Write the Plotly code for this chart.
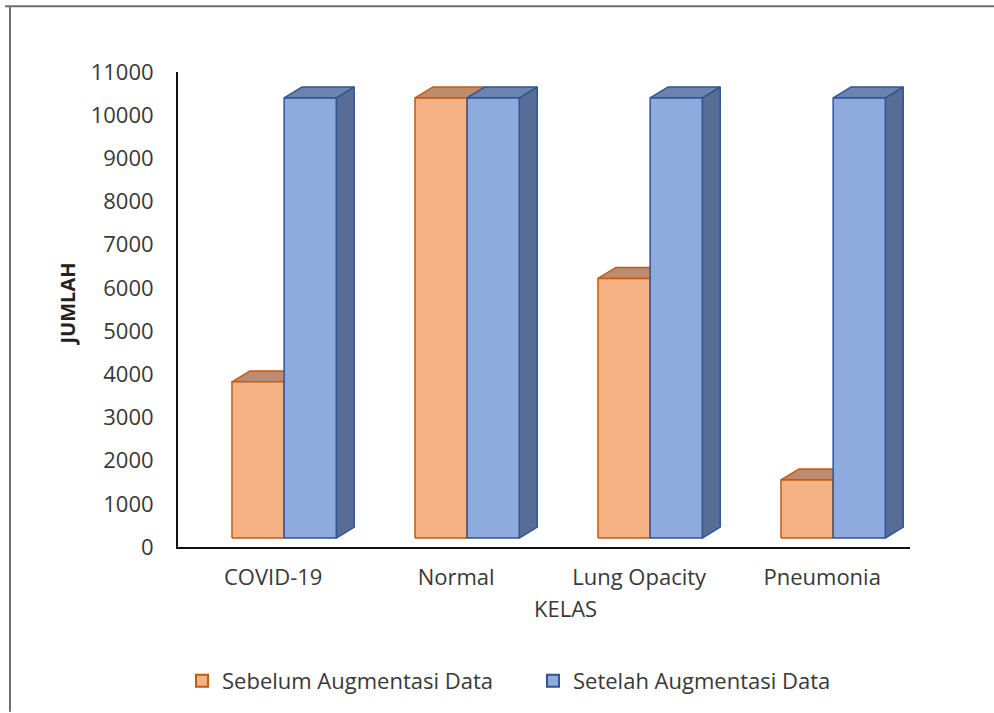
import plotly.graph_objects as go

# Jumlah citra per kelas, sebelum dan sesudah augmentasi
categories = ["COVID-19", "Normal", "Lung Opacity", "Pneumonia"]
sebelum = [3616, 10192, 6012, 1345]
setelah = [10192, 10192, 10192, 10192]
y_ticks = list(range(0, 11001, 1000))

series_names = ["Sebelum Augmentasi Data", "Setelah Augmentasi Data"]

# Plot area in pixels
W = 732
H = 476
L, T = 178, 72
Y_MAX = 11000

# Geometry of the pseudo-3D columns (in axis units)
BAR_W = 0.285          # width of each front face (category units)
GROUP_OFF = 0.295      # left offset of the first column within a category
FLOOR = 208            # columns stand slightly above the axis line
DX = 0.098             # depth offset in x
DY = 254               # depth offset in y

styles = [
    dict(front="#F4B183", top="#BF8B6E", side="#C37B4C", edge="#C55A11"),
    dict(front="#8FAADC", top="#6B83AE", side="#586D96", edge="#2F5597"),
]

FONT = "Open Sans"
FS = 22
TXT = "#383838"

fig = go.Figure()


def column_faces(values, k):
    """Side, top and front polygons of every column of series k."""
    side, top, front = ([], []), ([], []), ([], [])
    for i, v in enumerate(values):
        x0 = i + GROUP_OFF + k * BAR_W
        x1 = x0 + BAR_W
        y0 = FLOOR
        y1 = FLOOR + v
        side[0].extend([x1, x1 + DX, x1 + DX, x1, x1, None])
        side[1].extend([y0, y0 + DY, y1 + DY, y1, y0, None])
        top[0].extend([x0, x1, x1 + DX, x0 + DX, x0, None])
        top[1].extend([y1, y1, y1 + DY, y1 + DY, y1, None])
        front[0].extend([x0, x1, x1, x0, x0, None])
        front[1].extend([y0, y0, y1, y1, y0, None])
    return side, top, front


# Faces are painted back to front so the second series hides the first one's side
for k, (vals, name) in enumerate(zip([sebelum, setelah], series_names)):
    st = styles[k]
    side, top, front = column_faces(vals, k)
    for (xs, ys), fill in ((side, st["side"]), (top, st["top"]), (front, st["front"])):
        fig.add_trace(go.Scatter(
            x=xs, y=ys, mode="lines", fill="toself", fillcolor=fill,
            line=dict(color=st["edge"], width=1.5),
            name=name, showlegend=False, hoverinfo="skip",
        ))

# Legend entries with square swatches
for k, name in enumerate(series_names):
    st = styles[k]
    fig.add_trace(go.Bar(
        x=[None], y=[None], name=name,
        marker=dict(color=st["front"], line=dict(color=st["edge"], width=2)),
    ))

tickpos = [i + 0.52 for i in range(len(categories))]

fig.update_layout(
    width=994, height=713,
    margin=dict(l=L, r=994 - L - W, t=T, b=713 - T - H),
    paper_bgcolor="white", plot_bgcolor="white",
    font=dict(family=FONT, size=FS, color=TXT),
    showlegend=True,
    legend=dict(orientation="h", x=(182 - L) / W, xanchor="left",
                y=(T + H - 681) / H, yanchor="middle",
                font=dict(family=FONT, size=FS, color=TXT), traceorder="normal",
                entrywidth=306, itemwidth=30),
    xaxis=dict(range=[0, 4], tickvals=tickpos, ticktext=categories, showgrid=False,
               zeroline=False, showline=True, linecolor="#111111", linewidth=2,
               ticks="", ticklabelstandoff=10, fixedrange=True),
    yaxis=dict(range=[0, Y_MAX], tickvals=y_ticks, ticktext=[str(t) for t in y_ticks],
               showgrid=False, zeroline=False, showline=True, linecolor="#111111",
               linewidth=2, ticks="", ticklabelstandoff=18, fixedrange=True),
    annotations=[
        dict(text="<b>JUMLAH</b>", textangle=-90, xref="paper", yref="paper",
             x=(68 - L) / W, y=(T + H - 305) / H, xanchor="center", yanchor="middle",
             showarrow=False, font=dict(family=FONT, size=20, color="#222222")),
        dict(text="KELAS", xref="paper", yref="paper",
             x=(565 - L) / W, y=(T + H - 609) / H, xanchor="center", yanchor="middle",
             showarrow=False, font=dict(family=FONT, size=FS, color=TXT)),
    ],
    shapes=[
        dict(type="line", xref="paper", yref="paper",
             x0=(5 - L) / W, x1=(994 - L) / W, y0=(T + H - 6) / H, y1=(T + H - 6) / H,
             line=dict(color="#6E6E6E", width=2)),
        dict(type="line", xref="paper", yref="paper",
             x0=(10 - L) / W, x1=(10 - L) / W, y0=(T + H - 6) / H, y1=(T + H - 713) / H,
             line=dict(color="#6E6E6E", width=2)),
    ],
)

fig.write_html("out.html")
